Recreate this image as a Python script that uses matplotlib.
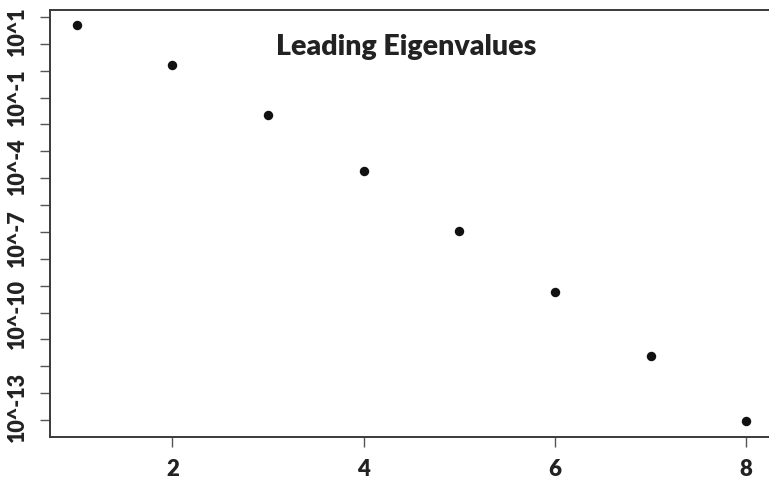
import matplotlib
matplotlib.use("Agg")
import matplotlib.pyplot as plt
import numpy as np

# ---- data ----
index = [1, 2, 3, 4, 5, 6, 7, 8]
eigenvalues = [5.0, 0.16, 2.2e-3, 1.9e-5, 1.1e-7, 5.9e-10, 2.4e-12, 9.1e-15]
x_ticks = [2, 4, 6, 8]
y_tick_decades = list(range(1, -15, -1))
y_labels = ["10^1", "10^-1", "10^-4", "10^-7", "10^-10", "10^-13"]
y_label_exps = [0.46, -1.98, -4.55, -7.23, -10.05, -13.52]
title = "Leading Eigenvalues"

FONT = ["Lato", "DejaVu Sans"]
dark = "#3a3a3a"
WEIGHT = "heavy"

fig = plt.figure(figsize=(7.69, 4.82), dpi=100)
ax = fig.add_axes([50/769, 1-437/482, (773-50)/769, (437-10)/482])

ax.plot(index, eigenvalues, "o", color="#111111", markersize=6.8, markeredgewidth=0)
ax.set_yscale("log")
ax.set_xlim(0.72, 8.28)
ax.set_ylim(10**-14.63, 10**1.26)

ax.set_xticks(x_ticks)
ax.set_xticklabels([str(t) for t in x_ticks], fontfamily=FONT, fontweight=WEIGHT,
                   fontsize=16, color="#222222")
ax.tick_params(axis="x", length=7, width=1.0, color="#555555", pad=9)

ax.set_yticks([10.0**d for d in y_tick_decades])
ax.set_yticklabels([])
ax.yaxis.set_minor_locator(matplotlib.ticker.NullLocator())
ax.tick_params(axis="y", length=7, width=1.0, color="#555555")

for lab, e in zip(y_labels, y_label_exps):
    ax.text(-0.045, 10.0**e, lab, transform=ax.get_yaxis_transform(),
            rotation=90, ha="center", va="center", fontfamily=FONT,
            fontweight=WEIGHT, fontsize=15.5, color="#222222")

for s in ["left", "bottom", "top", "right"]:
    ax.spines[s].set_color(dark)
    ax.spines[s].set_linewidth(1.4)

fig.text(406/769, 1-47/482, title, ha="center", va="center", fontfamily=FONT,
         fontweight=WEIGHT, fontsize=20.5, color="#222222")

fig.savefig("out.png", dpi=100)
